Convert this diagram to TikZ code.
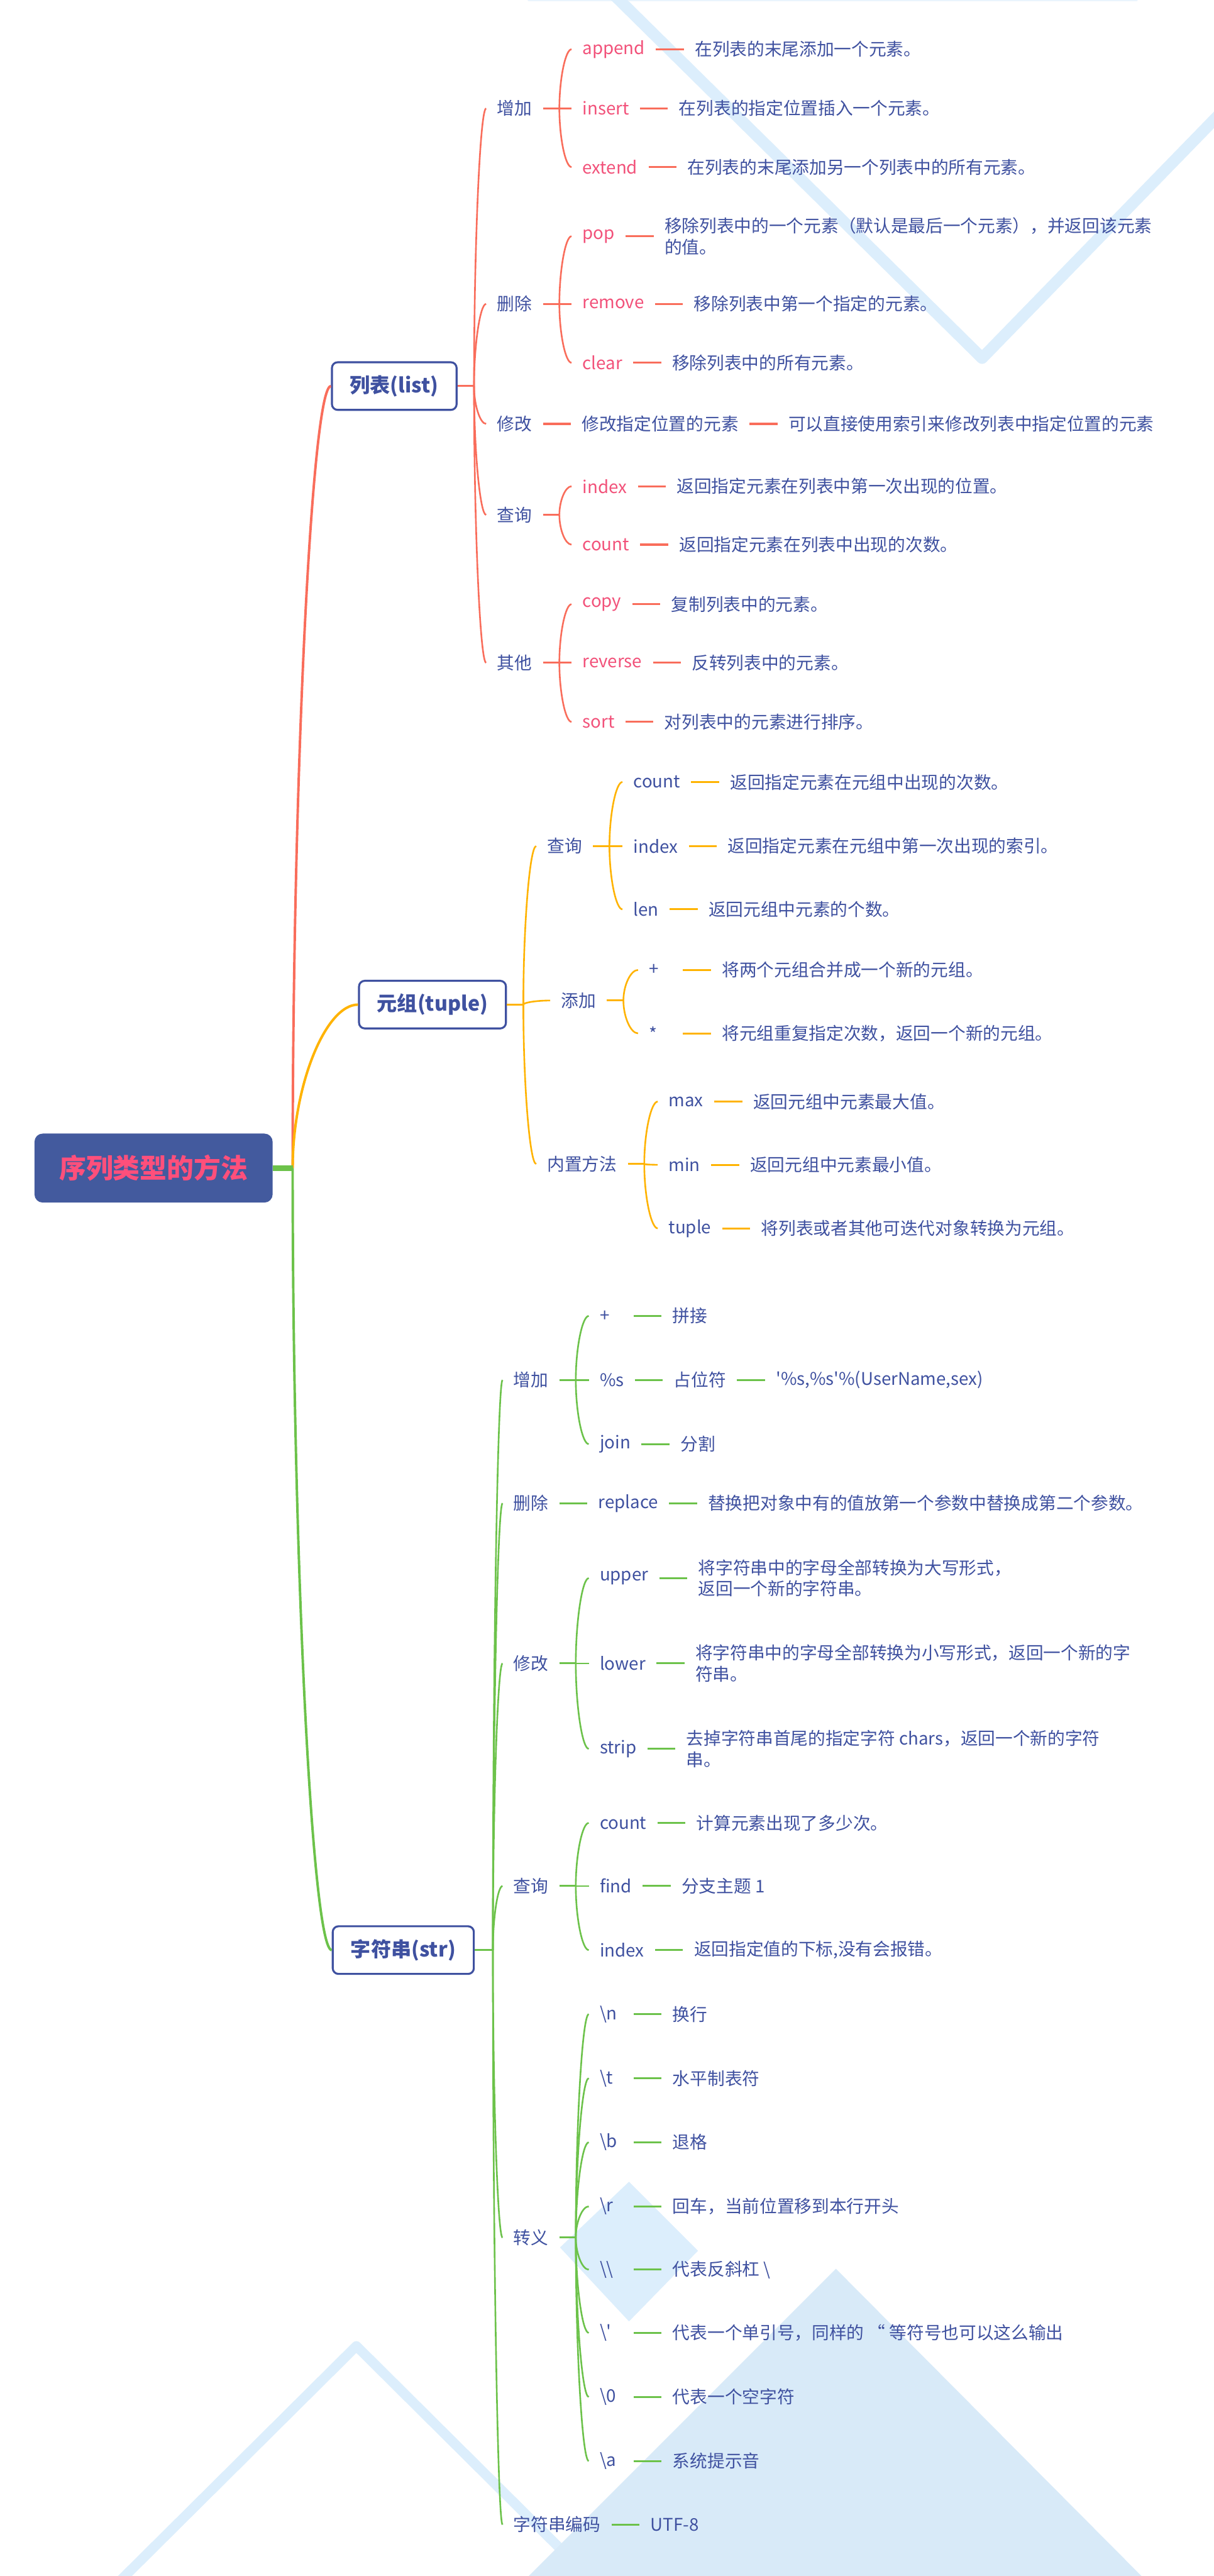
\documentclass[tikz,border=0pt]{standalone}
\usepackage{fontspec}
\setmainfont{Noto Sans CJK SC}
\usetikzlibrary{positioning,calc}

\definecolor{listc}{HTML}{F96D5B}
\definecolor{tuplec}{HTML}{FFB300}
\definecolor{strc}{HTML}{6CC24A}
\definecolor{keyc}{HTML}{F2527A}
\definecolor{inkc}{HTML}{3F51A0}
\definecolor{rootc}{HTML}{435A9E}
\definecolor{rootink}{HTML}{FF4F7B}
\definecolor{skyc}{HTML}{DCEEFC}
\definecolor{skyfill}{HTML}{D8EAF8}

\begin{document}
\begin{tikzpicture}[
  x=1pt, y=-1pt,
  font=\fontsize{10.6}{12.8}\selectfont,
  text=inkc,
  rootbox/.style={
    fill=rootc,
    rounded corners=5pt,
    minimum width=145pt,
    minimum height=42pt,
    text=rootink,
    font=\fontsize{16.4}{18}\selectfont\bfseries
  },
  topic/.style={
    draw=inkc,
    line width=1.2pt,
    fill=white,
    rounded corners=3.5pt,
    inner xsep=11pt,
    minimum height=29pt,
    anchor=west,
    font=\fontsize{12.3}{14}\selectfont\bfseries
  },
  cat/.style={anchor=west, inner xsep=6.5pt, inner ysep=2pt},
  kw/.style={cat},
  wide/.style={text width=14pt},
  desc/.style={inner xsep=6.5pt, inner ysep=2pt, align=left},
  twig/.style={line width=1pt, to path={
    .. controls ($(\tikztostart)!.5!(\tikztostart|-\tikztotarget)$)
    and ($(\tikztostart|-\tikztotarget)!.5!(\tikztotarget)$) .. (\tikztotarget)}},
  trunk/.style={twig, line width=1.5pt},
  leaf/.style={line width=1.2pt},
  sky/.style={draw=skyc, line width=7pt, line cap=round, line join=round}
]
  \useasboundingbox[fill=white] (0,0) rectangle (739,1568);

  % background marks
  \draw[sky, line width=1.5pt, opacity=.6] (322,0) -- (692,0);
  \draw[sky] (374,-3) -- (598,218) -- (745,67);
  \draw[sky, line width=6pt] (66,1578) -- (217,1428) -- (368,1578);
  \fill[skyfill] (312,1578) -- (509,1381) -- (705,1578) -- cycle;
  \fill[skyc] (383,1328) -- (425,1370) -- (383,1413) -- (341,1368) -- cycle;

  % root and the three types
  \node[rootbox] (root) at (93.5,711) {序列类型的方法};
  \coordinate (rb) at ([xshift=12pt]root.east);
  \node[topic] (list) at (201.5,235) {列表(list)};
  \node[topic] (tuple) at (218,611.5) {元组(tuple)};
  \node[topic] (str) at (202,1187) {字符串(str)};
  \draw[listc, trunk] (rb) to (list.west);
  \draw[tuplec, trunk] (rb) to (tuple.west);
  \draw[strc, trunk] (rb) to (str.west);
  \draw[strc, line width=3.5pt] (root) -- (rb);

  % list
  \coordinate (lb) at ([xshift=10pt]list.east);
  \draw[listc, leaf] (list) -- (lb);
  \foreach \id/\y/\lab in {ladd/66/增加, ldel/185/删除, lmod/258/修改,
                           lqry/313.4/查询, loth/403.4/其他} {
    \node[cat] (\id) at (296,\y) {\lab};
    \draw[listc, twig] (lb) to (\id.west);
  }
  \foreach \p in {ladd, ldel, lqry, loth} {
    \coordinate (\p-b) at ([xshift=10pt]\p.east);
    \draw[listc, leaf] (\p) -- (\p-b);
  }
  \foreach \p/\id/\y/\txt in {
      ladd/append/30/在列表的末尾添加一个元素。,
      ladd/insert/66/在列表的指定位置插入一个元素。,
      ladd/extend/101.7/在列表的末尾添加另一个列表中的所有元素。,
      ldel/pop/143.8/{移除列表中的一个元素（默认是最后一个元素），并返回该元素\\的值。},
      ldel/remove/185/移除列表中第一个指定的元素。,
      ldel/clear/220.8/移除列表中的所有元素。,
      lqry/index/296/返回指定元素在列表中第一次出现的位置。,
      lqry/count/331.5/返回指定元素在列表中出现的次数。,
      loth/copy/367.8/复制列表中的元素。,
      loth/reverse/403.4/反转列表中的元素。,
      loth/sort/439.4/对列表中的元素进行排序。} {
    \node[kw, text=keyc] (l\id) at (348,\y) {\id};
    \node[desc, right=17pt of l\id] (l\id-d) {\txt};
    \draw[listc, leaf] (l\id) -- (l\id-d);
    \draw[listc, twig] (\p-b) to (l\id.west);
  }
  \node[desc, right=17pt of lmod] (lmod-d) {修改指定位置的元素};
  \node[desc, right=17pt of lmod-d] (lmod-e) {可以直接使用索引来修改列表中指定位置的元素};
  \draw[listc, leaf] (lmod) -- (lmod-d);
  \draw[listc, leaf] (lmod-d) -- (lmod-e);

  % tuple
  \coordinate (tb) at ([xshift=10pt]tuple.east);
  \draw[tuplec, leaf] (tuple) -- (tb);
  \foreach \id/\x/\y/\lab in {tqry/326.5/515/查询, tadd/335/609/添加,
                              tbin/326.5/708.5/内置方法} {
    \node[cat] (\id) at (\x,\y) {\lab};
    \draw[tuplec, twig] (tb) to (\id.west);
    \coordinate (\id-b) at ([xshift=10pt]\id.east);
    \draw[tuplec, leaf] (\id) -- (\id-b);
  }
  \foreach \p/\id/\x/\y/\lab/\txt/\w in {
      tqry/count/379/476/count/返回指定元素在元组中出现的次数。/cat,
      tqry/index/379/515/index/返回指定元素在元组中第一次出现的索引。/cat,
      tqry/len/379/553.5/len/返回元组中元素的个数。/cat,
      tadd/plus/388.5/590.4/+/将两个元组合并成一个新的元组。/wide,
      tadd/star/388.5/629/*/将元组重复指定次数，返回一个新的元组。/wide,
      tbin/max/400.5/670.5/max/返回元组中元素最大值。/cat,
      tbin/min/400.5/709/min/返回元组中元素最小值。/cat,
      tbin/tuple/400.5/747.7/tuple/将列表或者其他可迭代对象转换为元组。/cat} {
    \node[kw, \w] (t\id) at (\x,\y) {\lab};
    \node[desc, right=17pt of t\id] (t\id-d) {\txt};
    \draw[tuplec, leaf] (t\id) -- (t\id-d);
    \draw[tuplec, twig] (\p-b) to (t\id.west);
  }

  % str
  \coordinate (sb) at ([xshift=11pt]str.east);
  \draw[strc, leaf] (str) -- (sb);
  \foreach \id/\y/\lab in {sadd/840/增加, sdel/915/删除, smod/1012.5/修改,
                           sqry/1148/查询, sesc/1362/转义, senc/1536.7/字符串编码} {
    \node[cat] (\id) at (306,\y) {\lab};
    \draw[strc, twig] (sb) to (\id.west);
  }
  \foreach \p in {sadd, smod, sqry, sesc} {
    \coordinate (\p-b) at ([xshift=10pt]\p.east);
    \draw[strc, leaf] (\p) -- (\p-b);
  }
  \foreach \p/\id/\y/\lab/\txt/\w in {
      sadd/plus/801/+/拼接/wide,
      sadd/join/879/join/分割/cat,
      smod/upper/960.6/upper/{将字符串中的字母全部转换为大写形式，\\返回一个新的字符串。}/cat,
      smod/lower/1012.5/lower/{将字符串中的字母全部转换为小写形式，返回一个新的字\\符串。}/cat,
      smod/strip/1064.5/strip/{去掉字符串首尾的指定字符 chars，返回一个新的字符\\串。}/cat,
      sqry/count/1109.6/count/计算元素出现了多少次。/cat,
      sqry/find/1148/find/分支主题 1/cat,
      sqry/index/1187/index/{返回指定值的下标,没有会报错。}/cat,
      sesc/n/1226/{\textbackslash n}/换行/wide,
      sesc/t/1265/{\textbackslash t}/水平制表符/wide,
      sesc/b/1304/{\textbackslash b}/退格/wide,
      sesc/r/1343/{\textbackslash r}/回车，当前位置移到本行开头/wide,
      sesc/bs/1381.5/{\textbackslash\textbackslash}/代表反斜杠 \textbackslash/wide,
      sesc/q/1420/{\textbackslash\textquotesingle}/代表一个单引号，同样的 “ 等符号也可以这么输出/wide,
      sesc/z/1459/{\textbackslash 0}/代表一个空字符/wide,
      sesc/a/1498/{\textbackslash a}/系统提示音/wide} {
    \node[kw, \w] (s\id) at (358.5,\y) {\lab};
    \node[desc, right=17pt of s\id] (s\id-d) {\txt};
    \draw[strc, leaf] (s\id) -- (s\id-d);
    \draw[strc, twig] (\p-b) to (s\id.west);
  }
  \node[kw] (spct) at (358.5,840) {\%s};
  \node[desc, right=17pt of spct] (spct-d) {占位符};
  \node[desc, right=17pt of spct-d] (spct-e)
    {\textquotesingle\%s,\%s\textquotesingle\%(UserName,sex)};
  \draw[strc, leaf] (spct) -- (spct-d);
  \draw[strc, leaf] (spct-d) -- (spct-e);
  \draw[strc, twig] (sadd-b) to (spct.west);
  \node[desc, right=17pt of sdel] (sdel-d) {replace};
  \node[desc, right=17pt of sdel-d] (sdel-e) {替换把对象中有的值放第一个参数中替换成第二个参数。};
  \draw[strc, leaf] (sdel) -- (sdel-d);
  \draw[strc, leaf] (sdel-d) -- (sdel-e);
  \node[desc, right=17pt of senc] (senc-d) {UTF-8};
  \draw[strc, leaf] (senc) -- (senc-d);
\end{tikzpicture}
\end{document}
